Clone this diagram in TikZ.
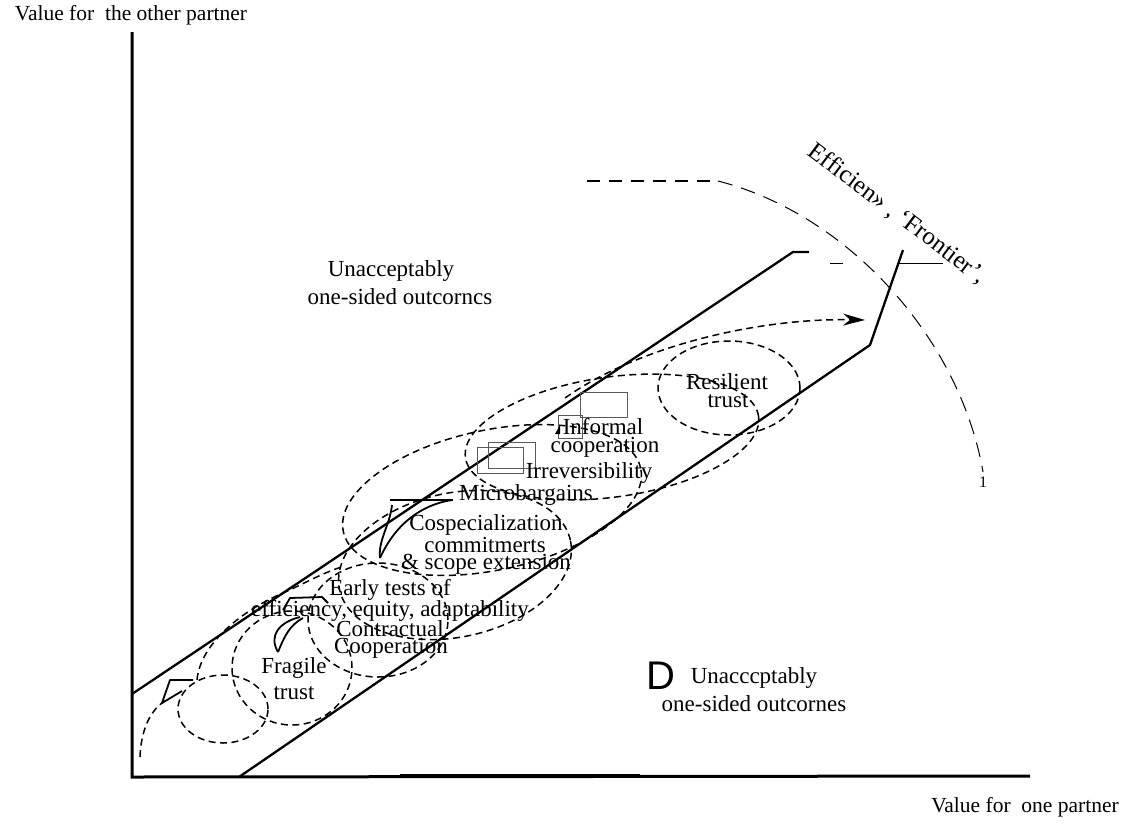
\documentclass[tikz,border=0pt]{standalone}
\usepackage{fontspec}
\setmainfont{Liberation Serif}
\newfontfamily\sansD{Liberation Sans}
\usetikzlibrary{arrows.meta}
\begin{document}
\begin{tikzpicture}[x=1pt,y=-1pt,
  lbl/.style={font=\fontsize{23}{23}\selectfont, inner sep=0pt},
  axl/.style={font=\fontsize{21.5}{21.5}\selectfont, inner sep=0pt},
  dsh/.style={dash pattern=on 7pt off 4.5pt, line width=1.5pt},
  band/.style={line width=2.3pt},
  claw/.style={line width=1.8pt, line join=round},
  rect/.style={draw=black!65, line width=0.8pt},
  front/.style={dash pattern=on 15pt off 9pt, line width=1pt}]
\useasboundingbox (0,0) rectangle (1129,825);

% axes
\coordinate (O) at (132,777);
\coordinate (Ytop) at (132,32);
\coordinate (Xend) at (1030,776);
\draw[line width=3pt] (Ytop) -- (O) -- (Xend);
\draw[line width=4.5pt] (400,776) -- (640,776);
\node[axl] (ylab) at (131,15) {Value for\ \ the other partner};
\node[axl] (xlab) at (1025,807) {Value for\ \ one partner};

% band
\coordinate (U0) at (132,694);
\coordinate (U1) at (793,252);
\coordinate (U2) at (809,252);
\coordinate (L0) at (239,777);
\coordinate (L1) at (870,345);
\coordinate (L2) at (903,250);
\draw[band] (U0) -- (U1) -- (U2);
\draw[band] (L0) -- (L1) -- (L2);
\draw[line width=1pt] (899,263) -- (943,263);
\draw[line width=1pt] (830,263) -- (843,263);

% efficiency frontier
\coordinate (F0) at (587,181);
\coordinate (F1) at (718,181);
\coordinate (F2) at (983,472);
\draw[dash pattern=on 13pt off 9pt, line width=1.6pt] (F0) -- (F1);
\draw[front] (F1) .. controls (850,215) and (960,340) .. (F2);
\node[font=\fontsize{25}{25}\selectfont, rotate=-37, inner sep=0pt] (eff) at (897,214) {Efficien» , ‘Frontier’,};
\node[font=\fontsize{16}{16}\selectfont, inner sep=0pt] (one) at (983,482) {1};

% ellipses
\draw[dsh] (223,709) ellipse [x radius=45pt, y radius=34pt];
\draw[dsh] (292,668) ellipse [x radius=60pt, y radius=57pt];
\draw[dsh] (378,620) ellipse [x radius=70pt, y radius=57pt];
\draw[dsh, shift={(455,565)}, rotate=12] (0,0) ellipse [x radius=118pt, y radius=72pt];
\draw[dsh, shift={(492,500)}, rotate=12] (0,0) ellipse [x radius=152pt, y radius=70pt];
\draw[dsh, shift={(612,437)}, rotate=8] (0,0) ellipse [x radius=148pt, y radius=60pt];
\draw[dsh] (729,388) ellipse [x radius=71pt, y radius=47pt];

% dashed approach curves
\draw[dsh] (140,757) .. controls (141,730) and (150,712) .. (162,703);
\draw[dsh] (197,680) .. controls (200,645) and (240,610) .. (290,590) .. controls (310,580) and (330,570) .. (345,566);
\coordinate (AS) at (565,398);
\coordinate (AE) at (865,320);
\draw[dsh, -{Stealth[length=22pt, width=12pt]}] (AS) .. controls (640,345) and (760,318) .. (AE);

% hand-drawn arrowheads
\draw[claw] (193,680) -- (170,680) -- (162,703) -- (182,691);
\draw[claw] (278,652) .. controls (268,635) and (280,622) .. (300,617);
\draw[claw] (278,652) .. controls (285,635) and (290,625) .. (303,618);
\draw[claw] (283,610) -- (290,598) -- (322,597) -- (328,603);
\draw[claw] (380,558) .. controls (378,540) and (390,525) .. (392,505);
\draw[claw] (380,558) .. controls (395,525) and (420,505) .. (452,500);
\draw[claw] (390,500) -- (453,500);

% rectangles
\draw[rect] (477,447) rectangle (523,473);
\draw[rect] (488,442) rectangle (535,468);
\draw[rect] (558,415) rectangle (582,438);
\draw[rect] (580,392) rectangle (627,417);
\fill (555,434) -- (560,425) -- (560,434) -- cycle;

% labels
\node[lbl] (ua1) at (391,271) {Unacceptably};
\node[lbl] (ua2) at (400,297) {one-sided outcorncs};
\node[lbl] (res1) at (727,382) {Resilient};
\node[lbl] (res2) at (728,401) {trust};
\node[lbl] (inf1) at (603,427) {Informal};
\node[lbl] (inf2) at (605,447) {cooperation};
\node[lbl] (irr) at (589,473) {Irreversibility};
\node[lbl] (mic) at (526,495) {Microbargains};
\node[lbl] (cos1) at (486,525) {Cospecialization};
\node[lbl] (cos2) at (485,545) {commitmerts};
\node[lbl] (cos3) at (486,564) {\& scope extension};
\node[lbl] (ear1) at (390,590) {Early tests of};
\node[lbl] (ear2) at (390,611) {efficiency, equity, adaptability};
\node[lbl] (con1) at (390,629) {Contractual};
\node[lbl] (con2) at (391,648) {Cooperation};
\node[lbl] (fra1) at (294,668) {Fragile};
\node[lbl] (fra2) at (294,693) {trust};
\node[font=\sansD\fontsize{40}{40}\selectfont, inner sep=0pt] (D) at (661,676) {D};
\node[lbl] (ub1) at (754,678) {Unacccptably};
\node[lbl] (ub2) at (754,704) {one-sided outcornes};
\end{tikzpicture}
\end{document}
